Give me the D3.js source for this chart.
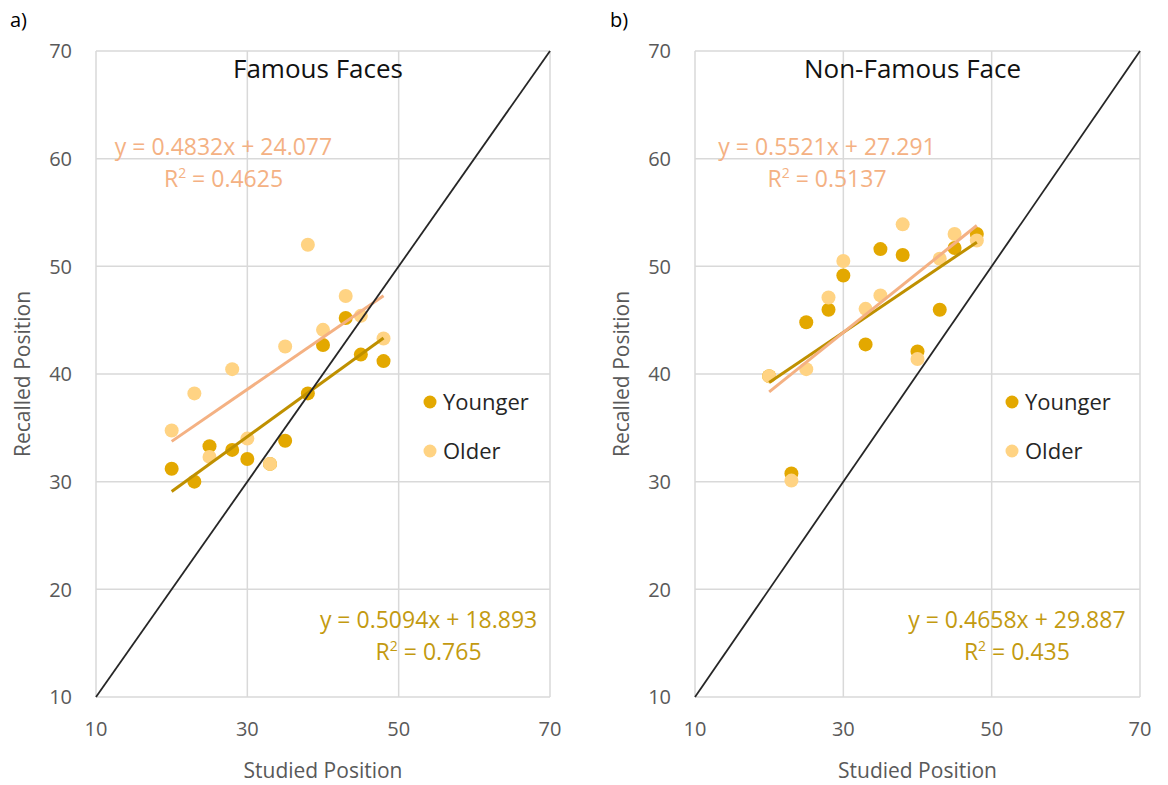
<!DOCTYPE html>
<html>
<head>
<meta charset="utf-8">
<script src="https://cdn.jsdelivr.net/npm/d3@7"></script>
<style>
  html, body { margin: 0; padding: 0; background: #fff; }
  svg { display: block; font-family: "Open Sans", "Noto Sans", sans-serif; }
</style>
</head>
<body>
<svg id="chart" width="1168" height="785"></svg>
<script>
// ── Data ──
var studied = [20, 23, 25, 28, 30, 33, 35, 38, 40, 43, 45, 48];

var famousYounger = [31.2, 30.0, 33.3, 32.95, 32.1, 31.65, 33.8, 38.2, 42.7, 45.2, 41.8, 41.2];
var famousOlder   = [34.75, 38.2, 32.3, 40.45, 34.0, 31.65, 42.55, 52.0, 44.1, 47.25, 45.4, 43.3];

var nonFamousYounger = [39.8, 30.76, 44.8, 45.97, 49.15, 42.75, 51.6, 51.05, 42.1, 45.97, 51.7, 53.0];
var nonFamousOlder   = [39.8, 30.1, 40.45, 47.1, 50.5, 46.05, 47.3, 53.9, 41.4, 50.7, 53.0, 52.4];

// trendline [slope, intercept, R²] as printed on the chart
var famousTrendYounger    = [0.5094, 18.893, '0.765'];
var famousTrendOlder      = [0.4832, 24.077, '0.4625'];
var nonFamousTrendYounger = [0.4658, 29.887, '0.435'];
var nonFamousTrendOlder   = [0.5521, 27.291, '0.5137'];

var xTicks = [10, 30, 50, 70];
var yTicks = [10, 20, 30, 40, 50, 60, 70];
var seriesNames = ['Younger', 'Older'];

(function () {
  'use strict';

  var svg = d3.select('#chart');

  var C = {
    youngDot: '#E3A800',
    oldDot: '#FFD383',
    youngLine: '#BF9000',
    oldLine: '#F4B183',
    youngText: '#C39A10',
    oldText: '#F4B183',
    grid: '#D9D9D9',
    axisText: '#595959',
    diag: '#262626'
  };

  function drawPanel(p) {
    var x = d3.scaleLinear().domain([10, 70]).range([p.left, p.right]);
    var y = d3.scaleLinear().domain([10, 70]).range([697, 51]);
    var g = svg.append('g');

    // grid
    g.selectAll('.hg').data(yTicks).join('line')
      .attr('x1', p.left).attr('x2', p.right)
      .attr('y1', function (d) { return y(d); }).attr('y2', function (d) { return y(d); })
      .attr('stroke', C.grid).attr('stroke-width', 1.5);
    g.selectAll('.vg').data(xTicks).join('line')
      .attr('y1', y(10)).attr('y2', y(70))
      .attr('x1', function (d) { return x(d); }).attr('x2', function (d) { return x(d); })
      .attr('stroke', C.grid).attr('stroke-width', 1.5);

    // tick labels
    g.selectAll('.yl').data(yTicks).join('text')
      .attr('x', p.left - 24).attr('y', function (d) { return y(d); }).attr('dy', '0.36em')
      .attr('text-anchor', 'end').attr('font-size', 20).attr('fill', C.axisText)
      .text(function (d) { return d; });
    g.selectAll('.xl').data(xTicks).join('text')
      .attr('x', function (d) { return x(d); }).attr('y', 736)
      .attr('text-anchor', 'middle').attr('font-size', 20).attr('fill', C.axisText)
      .text(function (d) { return d; });

    // axis titles
    g.append('text').attr('x', (p.left + p.right) / 2).attr('y', 778)
      .attr('text-anchor', 'middle').attr('font-size', 21).attr('fill', C.axisText)
      .text('Studied Position');
    g.append('text')
      .attr('transform', 'translate(' + (p.left - 66) + ',' + 374 + ') rotate(-90)')
      .attr('text-anchor', 'middle').attr('font-size', 21).attr('fill', C.axisText)
      .text('Recalled Position');

    // panel letter + title
    g.append('text').attr('x', p.letterX).attr('y', 27).attr('font-size', 20).attr('fill', '#000')
      .text(p.letter);
    g.append('text').attr('x', (p.left + p.right) / 2 - 5).attr('y', 78)
      .attr('text-anchor', 'middle').attr('font-size', 26).attr('fill', '#111')
      .text(p.title);

    // markers: younger first, older on top
    var sets = [
      { vals: p.younger, color: C.youngDot },
      { vals: p.older, color: C.oldDot }
    ];
    sets.forEach(function (s) {
      g.append('g').selectAll('circle').data(studied).join('circle')
        .attr('cx', function (d) { return x(d); })
        .attr('cy', function (d, i) { return y(s.vals[i]); })
        .attr('r', 7).attr('fill', s.color);
    });

    // trendlines over the markers
    var x0 = d3.min(studied), x1 = d3.max(studied);
    [[p.trendY, C.youngLine], [p.trendO, C.oldLine]].forEach(function (t) {
      g.append('line')
        .attr('x1', x(x0)).attr('y1', y(t[0][0] * x0 + t[0][1]))
        .attr('x2', x(x1)).attr('y2', y(t[0][0] * x1 + t[0][1]))
        .attr('stroke', t[1]).attr('stroke-width', 3);
    });

    // y = x reference
    g.append('line')
      .attr('x1', x(10)).attr('y1', y(10)).attr('x2', x(70)).attr('y2', y(70))
      .attr('stroke', C.diag).attr('stroke-width', 1.8);

    // trendline equations
    function eq(t, cx, cy, color) {
      var sign = t[1] < 0 ? ' - ' : ' + ';
      g.append('text').attr('x', x(cx)).attr('y', y(cy))
        .attr('text-anchor', 'middle').attr('font-size', 23).attr('fill', color)
        .text('y = ' + t[0] + 'x' + sign + t[1]);
      var r = g.append('text').attr('x', x(cx)).attr('y', y(cy) + 32)
        .attr('text-anchor', 'middle').attr('font-size', 23).attr('fill', color);
      r.append('tspan').text('R');
      r.append('tspan').attr('font-size', 14).attr('dy', -9).text('2');
      r.append('tspan').attr('dy', 9).text(' = ' + t[2]);
    }
    eq(p.trendO, p.oldEq[0], p.oldEq[1], C.oldText);
    eq(p.trendY, p.youngEq[0], p.youngEq[1], C.youngText);

    // legend
    var lg = g.append('g');
    lg.selectAll('circle').data(seriesNames).join('circle')
      .attr('cx', p.legendX).attr('cy', function (d, i) { return 402 + i * 49; })
      .attr('r', 6.5).attr('fill', function (d, i) { return i ? C.oldDot : C.youngDot; });
    lg.selectAll('text').data(seriesNames).join('text')
      .attr('x', p.legendX + 13).attr('y', function (d, i) { return 402 + i * 49; })
      .attr('dy', '0.36em').attr('font-size', 22).attr('fill', '#262626')
      .text(function (d) { return d; });
  }

  drawPanel({
    left: 96, right: 550, letter: 'a)', letterX: 10, title: 'Famous Faces',
    younger: famousYounger, older: famousOlder,
    trendY: famousTrendYounger, trendO: famousTrendOlder,
    oldEq: [26.85, 60.3], youngEq: [53.95, 16.4], legendX: 430
  });
  drawPanel({
    left: 695, right: 1140, letter: 'b)', letterX: 610, title: 'Non-Famous Face',
    younger: nonFamousYounger, older: nonFamousOlder,
    trendY: nonFamousTrendYounger, trendO: nonFamousTrendOlder,
    oldEq: [27.8, 60.3], youngEq: [53.4, 16.4], legendX: 1012
  });
})();
</script>
</body>
</html>
